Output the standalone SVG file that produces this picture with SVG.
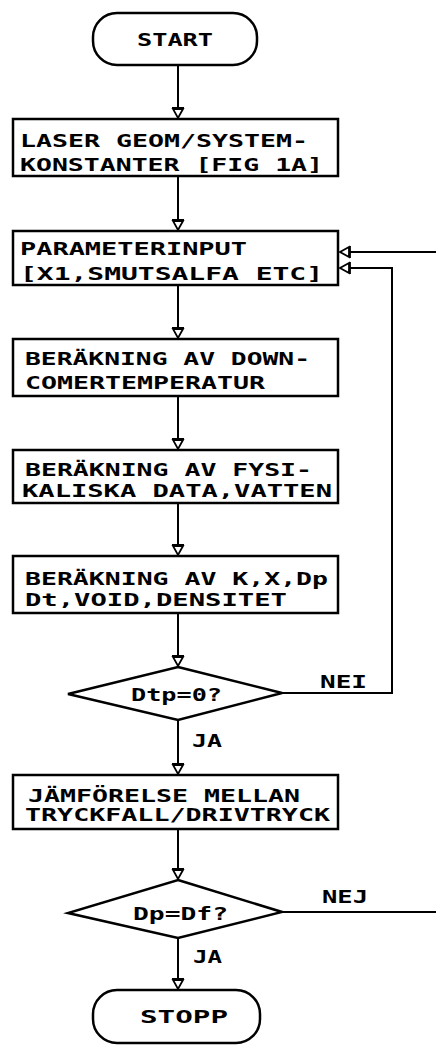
<svg xmlns="http://www.w3.org/2000/svg" width="436" height="1047" viewBox="0 0 436 1047">
<style>
.box{fill:#fff;stroke:#000;stroke-width:2.5}
.ln{fill:none;stroke:#000;stroke-width:2}
.t{font-family:"DejaVu Sans Mono","Liberation Mono",monospace;font-weight:bold;font-size:17px;fill:#000}
</style>
<defs>
<marker id="ah" markerUnits="userSpaceOnUse" markerWidth="16" markerHeight="16" viewBox="-12 -8 14 16" refX="0" refY="0" orient="auto">
<path d="M-9,-5 L0,0 L-9,5 Z M-10,-6 L-10,6" fill="#fff" stroke="#000" stroke-width="1.8"/>
</marker>
</defs>
<rect width="436" height="1047" fill="#fff"/>
<g id="connectors">
<line class="ln" x1="178" y1="65" x2="178" y2="118" marker-end="url(#ah)"/>
<line class="ln" x1="178" y1="176" x2="178" y2="230" marker-end="url(#ah)"/>
<line class="ln" x1="178" y1="285" x2="178" y2="338" marker-end="url(#ah)"/>
<line class="ln" x1="178" y1="396" x2="178" y2="449" marker-end="url(#ah)"/>
<line class="ln" x1="178" y1="503" x2="178" y2="555" marker-end="url(#ah)"/>
<line class="ln" x1="178" y1="613" x2="178" y2="666" marker-end="url(#ah)"/>
<line class="ln" x1="178" y1="720" x2="178" y2="774" marker-end="url(#ah)"/>
<line class="ln" x1="178" y1="829" x2="178" y2="879" marker-end="url(#ah)"/>
<line class="ln" x1="178" y1="938" x2="178" y2="989" marker-end="url(#ah)"/>
<polyline class="ln" points="282,693 392,693 392,268 340,268" marker-end="url(#ah)"/>
<line class="ln" x1="282" y1="912" x2="436" y2="912"/>
<line class="ln" x1="436" y1="252" x2="340" y2="252" marker-end="url(#ah)"/>
<text class="t" x="320" y="688" textLength="47" lengthAdjust="spacingAndGlyphs">NEI</text>
<text class="t" x="192" y="747" textLength="30" lengthAdjust="spacingAndGlyphs">JA</text>
<text class="t" x="322" y="903" textLength="46" lengthAdjust="spacingAndGlyphs">NEJ</text>
<text class="t" x="193" y="963" textLength="29" lengthAdjust="spacingAndGlyphs">JA</text>
</g>
<g id="start">
<rect class="box" x="93" y="13" width="164" height="52" rx="24"/>
<text class="t" x="137" y="46" textLength="76" lengthAdjust="spacingAndGlyphs">START</text>
</g>
<g id="n1">
<rect class="box" x="13" y="119" width="325" height="57"/>
<text class="t" x="20" y="147" textLength="288" lengthAdjust="spacingAndGlyphs">LASER GEOM/SYSTEM-</text>
<text class="t" x="20" y="171" textLength="303" lengthAdjust="spacingAndGlyphs">KONSTANTER [FIG 1A]</text>
</g>
<g id="n2">
<rect class="box" x="13" y="231" width="325" height="54"/>
<text class="t" x="20" y="255" textLength="227" lengthAdjust="spacingAndGlyphs">PARAMETERINPUT</text>
<text class="t" x="20" y="280" textLength="303" lengthAdjust="spacingAndGlyphs">[X1,SMUTSALFA ETC]</text>
</g>
<g id="n3">
<rect class="box" x="13" y="339" width="325" height="57"/>
<text class="t" x="25" y="365" textLength="285" lengthAdjust="spacingAndGlyphs">BERÄKNING AV DOWN-</text>
<text class="t" x="25" y="389" textLength="240" lengthAdjust="spacingAndGlyphs">COMERTEMPERATUR</text>
</g>
<g id="n4">
<rect class="box" x="13" y="450" width="325" height="53"/>
<text class="t" x="25" y="476" textLength="287" lengthAdjust="spacingAndGlyphs">BERÄKNING AV FYSI-</text>
<text class="t" x="22" y="497" textLength="310" lengthAdjust="spacingAndGlyphs">KALISKA DATA,VATTEN</text>
</g>
<g id="n5">
<rect class="box" x="13" y="556" width="325" height="57"/>
<text class="t" x="25" y="585" textLength="303" lengthAdjust="spacingAndGlyphs">BERÄKNING AV K,X,Dp</text>
<text class="t" x="25" y="606" textLength="262" lengthAdjust="spacingAndGlyphs">Dt,VOID,DENSITET</text>
</g>
<g id="d1">
<polygon class="box" points="178,667 282,693 178,720 68,694"/>
<text class="t" x="131" y="701" textLength="91" lengthAdjust="spacingAndGlyphs">Dtp=0?</text>
</g>
<g id="n6">
<rect class="box" x="13" y="775" width="325" height="54"/>
<text class="t" x="28" y="802" textLength="272" lengthAdjust="spacingAndGlyphs">JÄMFÖRELSE MELLAN</text>
<text class="t" x="25" y="821" textLength="305" lengthAdjust="spacingAndGlyphs">TRYCKFALL/DRIVTRYCK</text>
</g>
<g id="d2">
<polygon class="box" points="178,880 282,912 178,938 68,913"/>
<text class="t" x="133" y="920" textLength="95" lengthAdjust="spacingAndGlyphs">Dp=Df?</text>
</g>
<g id="stopp">
<rect class="box" x="93" y="990" width="167" height="53" rx="24"/>
<text class="t" x="140" y="1023" textLength="88" lengthAdjust="spacingAndGlyphs">STOPP</text>
</g>
</svg>
